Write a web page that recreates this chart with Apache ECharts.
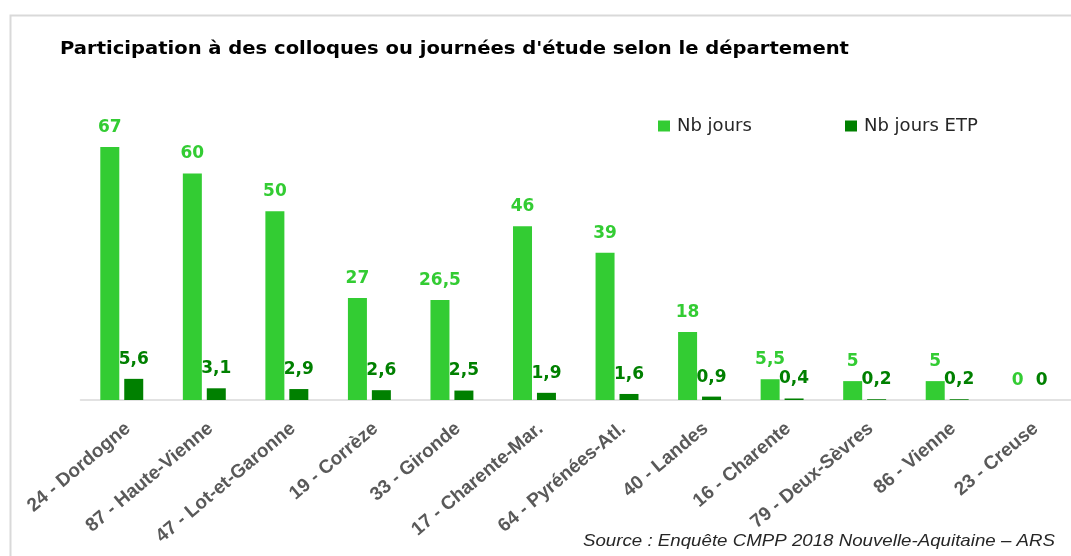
<!DOCTYPE html>
<html>
<head>
<meta charset="utf-8">
<script src="https://cdn.jsdelivr.net/npm/echarts@6/dist/echarts.min.js"></script>
<style>
  html, body { margin: 0; padding: 0; background: #ffffff; }
  #chart { width: 1071px; height: 556px; }
</style>
</head>
<body>
<div id="chart"></div>
<script>
// Départements (ordre d'affichage)
const categories = [
  '24 - Dordogne', '87 - Haute-Vienne', '47 - Lot-et-Garonne', '19 - Corrèze',
  '33 - Gironde', '17 - Charente-Mar.', '64 - Pyrénées-Atl.', '40 - Landes',
  '16 - Charente', '79 - Deux-Sèvres', '86 - Vienne', '23 - Creuse'
];
// Nombre de jours de colloques / journées d'étude
const nbJours = [67, 60, 50, 27, 26.5, 46, 39, 18, 5.5, 5, 5, 0];
// Nombre de jours rapporté aux ETP
const nbJoursEtp = [5.6, 3.1, 2.9, 2.6, 2.5, 1.9, 1.6, 0.9, 0.4, 0.2, 0.2, 0];

const seriesNames = ['Nb jours', 'Nb jours ETP'];
const titleText = "Participation à des colloques ou journées d'étude selon le département";
const sourceText = 'Source : Enquête CMPP 2018 Nouvelle-Aquitaine – ARS';

const LIGHT = '#33cc33';
const DARK = '#008000';

// Valeurs affichées avec une virgule décimale
const fmt = p => String(p.value).replace('.', ',');

const legendText = { fontFamily: 'DejaVu Sans', fontSize: 18, color: '#262626', padding: [0, 0, 0, 2] };

const chart = echarts.init(document.getElementById('chart'), null, { renderer: 'canvas' });

chart.setOption({
  animation: false,
  backgroundColor: '#ffffff',
  grid: { left: 80.5, right: -5.5, top: 97.9, bottom: 156, containLabel: false },
  legend: [
    {
      data: [seriesNames[0]], left: 658, top: 117, padding: 0,
      itemWidth: 12, itemHeight: 11, icon: 'rect', textStyle: legendText
    },
    {
      data: [seriesNames[1]], left: 845, top: 117, padding: 0,
      itemWidth: 12, itemHeight: 11, icon: 'rect', textStyle: legendText
    }
  ],
  xAxis: {
    type: 'category',
    data: categories,
    axisLine: { show: true, lineStyle: { color: '#d9d9d9', width: 1.5 } },
    axisTick: { show: false },
    axisLabel: {
      interval: 0, rotate: 40, margin: 19, verticalAlign: 'top',
      fontFamily: 'Liberation Sans', fontWeight: 'bold', fontSize: 19, color: '#595959'
    }
  },
  yAxis: {
    type: 'value', min: 0, max: 80,
    show: false, splitLine: { show: false }
  },
  series: [
    {
      name: seriesNames[0], type: 'bar', data: nbJours,
      barWidth: 19, barGap: '26%',
      itemStyle: { color: LIGHT },
      label: {
        show: true, position: 'top', distance: 11, formatter: fmt,
        fontFamily: 'DejaVu Sans', fontWeight: 'bold', fontSize: 17, color: LIGHT
      }
    },
    {
      name: seriesNames[1], type: 'bar', data: nbJoursEtp,
      barWidth: 19,
      itemStyle: { color: DARK },
      label: {
        show: true, position: 'top', distance: 11, formatter: fmt,
        fontFamily: 'DejaVu Sans', fontWeight: 'bold', fontSize: 17, color: DARK
      }
    }
  ],
  graphic: [
    {
      type: 'rect', left: 8, top: 13, silent: true,
      shape: { width: 1080, height: 560 },
      style: { fill: 'none', stroke: '#d9d9d9', lineWidth: 2 }
    },
    {
      type: 'text', x: 60, y: 41, scaleX: 1.15,
      style: {
        text: titleText, fontFamily: 'DejaVu Sans', fontWeight: 'bold',
        fontSize: 17, fill: '#000000'
      }
    },
    {
      type: 'text', x: 583, y: 533, scaleX: 1.1,
      style: {
        text: sourceText, fontFamily: 'Liberation Sans', fontStyle: 'italic',
        fontSize: 17, fill: '#262626'
      }
    }
  ]
});
</script>
</body>
</html>
